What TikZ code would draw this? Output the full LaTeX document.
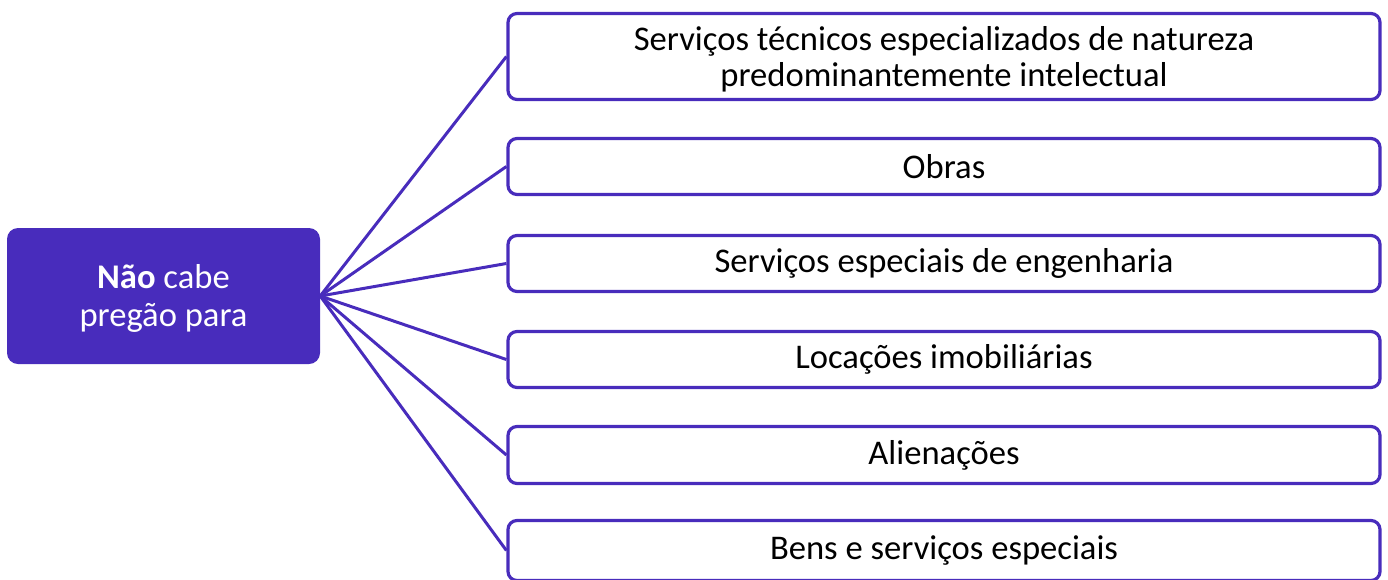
\documentclass[tikz,border=0pt]{standalone}
\usepackage{fontspec}
\setmainfont{Carlito}
\definecolor{pur}{RGB}{72,44,188}
\begin{document}
\begin{tikzpicture}[x=1pt,y=-1pt,
  item/.style={draw=pur,line width=3.2pt,rounded corners=9pt,fill=white,
    minimum width=872pt,inner sep=0pt,align=center,
    font=\fontsize{34.6pt}{36pt}\selectfont,text=black},
  root/.style={fill=pur,rounded corners=11pt,minimum width=313pt,minimum height=136pt,
    inner sep=0pt},
  rtext/.style={text=white,align=center,font=\fontsize{34.6pt}{38pt}\selectfont},
  link/.style={draw=pur,line width=3pt}]
\useasboundingbox (0,0) rectangle (1388,579);
\clip (0,0) rectangle (1388,579);
\node[root] (r) at (163.5,296) {};
\node[rtext] (rt) at (163.5,298) {\textbf{Não} cabe\\pregão para};
\node[item,minimum height=86pt] (b1) at (944,56.5) {};
\node[align=center,font=\fontsize{34.6pt}{36pt}\selectfont] (t1) at (944,59.5) {Serviços técnicos especializados de natureza\\predominantemente intelectual};
\node[item,minimum height=56pt] (b2) at (944,166.5) {Obras};
\node[item,minimum height=56pt] (b3) at (944,263.5) {Serviços especiais de engenharia};
\node[item,minimum height=56pt] (b4) at (944,359.5) {Locações imobiliárias};
\node[item,minimum height=57pt] (b5) at (944,455) {Alienações};
\node[item,minimum height=60pt] (b6) at (944,550.5) {Bens e serviços especiais};
\foreach \b in {b1,b2,b3,b4,b5,b6}
  \draw[link] (r.east) -- (\b.west);
\end{tikzpicture}
\end{document}
